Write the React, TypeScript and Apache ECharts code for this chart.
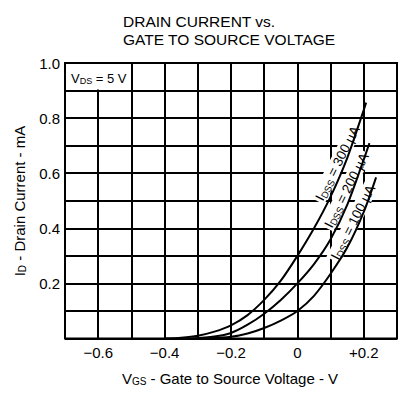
import React, { useEffect, useRef } from "react";
import * as echarts from "echarts";

// IDSS = 300 µA curve
const vgs300 = [-0.4, -0.35, -0.3, -0.25, -0.2, -0.15, -0.1, -0.05, 0, 0.05, 0.1, 0.15, 0.2, 0.207];
const id300 = [0, 0.003, 0.01, 0.025, 0.048, 0.085, 0.14, 0.21, 0.3, 0.4, 0.515, 0.655, 0.83, 0.856];
// IDSS = 200 µA curve
const vgs200 = [-0.32, -0.25, -0.2, -0.15, -0.1, -0.05, 0, 0.05, 0.1, 0.15, 0.2, 0.217];
const id200 = [0, 0.007, 0.02, 0.05, 0.09, 0.14, 0.2, 0.27, 0.36, 0.485, 0.65, 0.709];
// IDSS = 100 µA curve
const vgs100 = [-0.27, -0.2, -0.15, -0.1, -0.05, 0, 0.05, 0.1, 0.15, 0.2, 0.237];
const id100 = [0, 0.006, 0.018, 0.038, 0.065, 0.1, 0.155, 0.235, 0.33, 0.46, 0.585];

const xLabelValues = [-0.6, -0.4, -0.2, 0, 0.2];
const xLabelTexts = ["\u22120.6", "\u22120.4", "\u22120.2", "0", "+0.2"];
const yLabelValues = [0.2, 0.4, 0.6, 0.8, 1.0];
const yLabelTexts = ["0.2", "0.4", "0.6", "0.8", "1.0"];

const curveLabels = ["300", "200", "100"];

const FONT = "Liberation Sans, Arial, sans-serif";

function pick(values: number[], texts: string[], v: number) {
  const i = values.findIndex((t) => Math.abs(t - v) < 1e-6);
  return i >= 0 ? texts[i] : "";
}

function pairs(xs: number[], ys: number[]) {
  return xs.map((x, i) => [x, ys[i]]);
}

export default function App() {
  const ref = useRef<HTMLDivElement>(null);
  useEffect(() => {
    if (!ref.current) return;
    const chart = echarts.init(ref.current, null, { renderer: "svg" });
    const subRich = {
      n: { fontSize: 13.5, fontFamily: FONT, color: "#000", lineHeight: 15, verticalAlign: "bottom" },
      s: { fontSize: 9.5, fontFamily: FONT, color: "#000", lineHeight: 15, verticalAlign: "bottom", padding: [0, 0, -1, 0] },
    };
    const axisRich = {
      n: { fontSize: 15, fontFamily: FONT, color: "#000", lineHeight: 17, verticalAlign: "bottom" },
      s: { fontSize: 10, fontFamily: FONT, color: "#000", lineHeight: 17, verticalAlign: "bottom", padding: [0, 0, -1, 0] },
    };
    const vdsRich = {
      n: { fontSize: 13, fontFamily: FONT, color: "#000", lineHeight: 15, verticalAlign: "bottom" },
      s: { fontSize: 9, fontFamily: FONT, color: "#000", lineHeight: 15, verticalAlign: "bottom", padding: [0, 0, -1, 0] },
    };
    const ang = (63 * Math.PI) / 180;
    const labelPos = [
      [337, 163],
      [346, 190],
      [352.5, 222],
    ];
    const line = (xs: number[], ys: number[]) => ({
      type: "line",
      data: pairs(xs, ys),
      smooth: 0.3,
      showSymbol: false,
      symbol: "none",
      silent: true,
      lineStyle: { color: "#000", width: 2 },
      z: 5,
    });
    chart.setOption({
      animation: false,
      title: {
        text: "DRAIN CURRENT vs.\nGATE TO SOURCE VOLTAGE",
        left: 123,
        top: 12,
        padding: 0,
        textStyle: { fontSize: 15.5, fontWeight: "normal", fontFamily: FONT, color: "#000", lineHeight: 18 },
      },
      grid: { left: 65, right: 13, top: 63, bottom: 57.5, show: true, borderColor: "#000", borderWidth: 2, backgroundColor: "#fff" },
      xAxis: {
        type: "value",
        min: -0.7,
        max: 0.3,
        interval: 0.1,
        axisLine: { show: false },
        axisTick: { show: false },
        splitLine: { show: true, lineStyle: { color: "#000", width: 2 } },
        axisLabel: {
          showMinLabel: true,
          showMaxLabel: true,
          margin: 6,
          fontSize: 15,
          fontFamily: FONT,
          color: "#000",
          formatter: (v: number) => pick(xLabelValues, xLabelTexts, v),
        },
      },
      yAxis: {
        type: "value",
        min: 0,
        max: 1,
        interval: 0.1,
        axisLine: { show: false },
        axisTick: { show: false },
        splitLine: { show: true, lineStyle: { color: "#000", width: 2 } },
        axisLabel: {
          showMinLabel: true,
          showMaxLabel: true,
          margin: 5,
          fontSize: 15,
          fontFamily: FONT,
          color: "#000",
          formatter: (v: number) => pick(yLabelValues, yLabelTexts, v),
        },
      },
      series: [line(vgs300, id300), line(vgs200, id200), line(vgs100, id100)],
      graphic: [
        {
          type: "rect",
          z: 3,
          shape: { x: 66, y: 64, width: 65, height: 25.5 },
          style: { fill: "#fff" },
        },
        {
          type: "text",
          z: 4,
          x: 71,
          y: 77,
          style: { text: "{n|V}{s|DS}{n| = 5 V}", rich: vdsRich, verticalAlign: "middle", align: "left" },
        },
        ...curveLabels.map((c, i) => ({
          type: "text",
          z: 4,
          x: labelPos[i][0],
          y: labelPos[i][1],
          rotation: ang,
          style: {
            text: "{n|I}{s|DSS}{n| = " + c + " \u00b5A}",
            rich: subRich,
            align: "center",
            verticalAlign: "middle",
            backgroundColor: "#fff",
            padding: [0, 2, 0, 2],
          },
        })),
        {
          type: "text",
          x: 18,
          y: 201,
          rotation: Math.PI / 2,
          style: { text: "{n|I}{s|D}{n| - Drain Current - mA}", rich: axisRich, align: "center", verticalAlign: "middle" },
        },
        {
          type: "text",
          x: 230,
          y: 377,
          style: { text: "{n|V}{s|GS}{n| - Gate to Source Voltage - V}", rich: axisRich, align: "center", verticalAlign: "middle" },
        },
      ],
    });
    return () => chart.dispose();
  }, []);
  return <div ref={ref} style={{ position: "fixed", left: 0, top: 0, width: 410, height: 396, background: "#fff" }} />;
}
